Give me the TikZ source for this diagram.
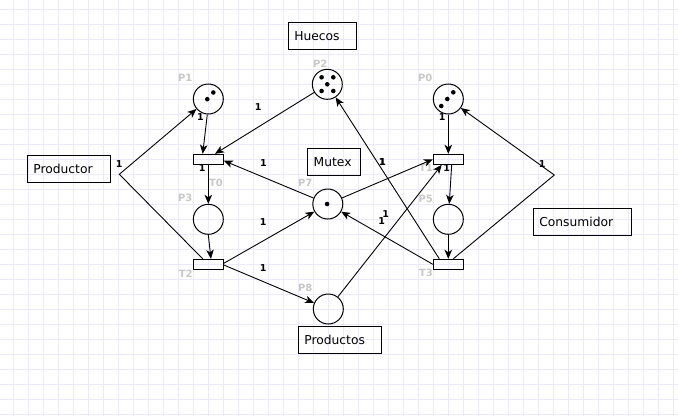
\documentclass[tikz,border=0pt]{standalone}
\usepackage{fontspec}
\setmainfont{DejaVu Sans}
\usetikzlibrary{arrows.meta,calc}
\definecolor{gridc}{RGB}{234,234,252}
\definecolor{lblc}{RGB}{200,200,200}
\begin{document}
\begin{tikzpicture}[x=1pt,y=-1pt,
 place/.style={circle,draw,line width=1pt,minimum size=30pt,inner sep=0pt},
 trans/.style={rectangle,draw,line width=1pt,minimum width=30pt,minimum height=10pt,inner sep=0pt},
 tbox/.style={rectangle,draw,line width=1pt,minimum height=27pt,inner xsep=6pt,inner ysep=0pt,align=left,font=\fontsize{12.3}{15}\selectfont},
 nlbl/.style={text=lblc,font=\fontsize{10}{12}\selectfont\bfseries,inner sep=0pt},
 albl/.style={font=\fontsize{9.5}{11}\selectfont\bfseries,inner sep=0pt},
 arc/.style={draw,line width=0.9pt,-{Stealth[length=9pt,width=7.5pt,inset=2.5pt]}},
 plainarc/.style={draw,line width=0.9pt}]
\useasboundingbox (0,0) rectangle (678,416);
\fill[white] (0,0) rectangle (678,416);
\foreach \i in {0,...,44} \draw[gridc,line width=1pt] (13.3+15*\i,0) -- (13.3+15*\i,416);
\foreach \i in {0,...,27} \draw[gridc,line width=1pt] (0,9.3+15*\i) -- (678,9.3+15*\i);

% places
\node[place] (p1) at (208.3,99) {};
\node[place] (p2) at (327.3,84.3) {};
\node[place] (p0) at (448.3,99) {};
\node[place] (p3) at (208.3,219.3) {};
\node[place] (p5) at (448.3,219.3) {};
\node[place] (p7) at (327.8,204) {};
\node[place] (p8) at (328.3,309) {};
% transitions
\node[trans] (t0) at (208.3,159.3) {};
\node[trans] (t1) at (448.3,159.3) {};
\node[trans] (t2) at (208.3,264.3) {};
\node[trans] (t3) at (448.3,264.3) {};
% tokens
\fill ($(p1)+(5,-6.5)$) circle (2.3pt);
\fill ($(p1)+(-1,0.2)$) circle (2.3pt);
\fill ($(p0)+(5,-6.7)$) circle (2.3pt);
\fill ($(p0)+(-1,0)$) circle (2.3pt);
\fill ($(p0)+(-7,7)$) circle (2.3pt);
\fill ($(p2)+(-5.7,-7)$) circle (2.3pt);
\fill ($(p2)+(6,-7)$) circle (2.3pt);
\fill ($(p2)+(0,0)$) circle (2.3pt);
\fill ($(p2)+(-5.7,6.7)$) circle (2.3pt);
\fill ($(p2)+(6,6.7)$) circle (2.3pt);
\fill ($(p7)+(-0.7,0)$) circle (2.3pt);

% element labels
\node[nlbl] (lp1) at (185.3,78.3) {P1};
\node[nlbl] (lp2) at (320.3,63.3) {P2};
\node[nlbl] (lp0) at (425.3,78.3) {P0};
\node[nlbl] (lt0) at (216,183.3) {T0};
\node[nlbl] (lp3) at (185.3,198.3) {P3};
\node[nlbl] (lt2) at (185.8,273.3) {T2};
\node[nlbl] (lp7) at (305.3,183.3) {P7};
\node[nlbl] (lp8) at (305.3,288.3) {P8};
\node[nlbl] (lt1) at (426,168.3) {T1};
\node[nlbl] (lp5) at (425.7,199) {P5};
\node[nlbl] (lt3) at (426,273.3) {T3};

% text boxes
\node[tbox,text width=56.4pt] (huecos) at (322.5,36) {Huecos};
\node[tbox,text width=40.6pt] (mutex) at (334,161.8) {Mutex};
\node[tbox,text width=71.4pt] (productor) at (69,168.8) {Productor};
\node[tbox,text width=71.4pt] (productos) at (340,340) {Productos};
\node[tbox,text width=86.4pt] (consumidor) at (582.5,221.8) {Consumidor};

% fork points
\coordinate (f1) at (119.3,174.3);
\coordinate (f2) at (554.3,175);

% arcs
\path[arc] ([xshift=-5.6pt]t2.north) -- (f1) -- (p1);
\path[arc] ([xshift=5pt]t3.north) -- (f2) -- (p0);
\path[arc] ([xshift=-1pt]p1.south) -- ([xshift=-5.6pt]t0.north);
\path[arc] (p2) -- ([xshift=6.7pt]t0.north);
\path[arc] (p7) -- ([yshift=-1.4pt]t0.east);
\path[arc] (t0.south) -- (p3.north);
\path[arc] (p3.south) -- ([xshift=2.7pt]t2.north);
\path[arc] ([yshift=1pt]t2.east) -- (p7);
\path[arc] ([yshift=-0.7pt]t2.east) -- (p8);
\path[arc] (p8) -- ([xshift=-6.6pt]t1.south);
\path[arc] (p7) -- (t1.west);
\path[arc] ([xshift=-9pt]t3.north) -- (p2);
\path[arc] (t3.west) -- (p7);
\path[arc] (p0.south) -- (t1.north);
\path[arc] ([xshift=3.4pt]t1.south) -- (p5);
\path[arc] (p5.south) -- (t3.north);

% arc weights
\node[albl] (w1) at (119.3,164.3) {1};
\node[albl] (w2) at (200.5,117.3) {1};
\node[albl] (w3) at (202.3,168) {1};
\node[albl] (w4) at (258.3,107.5) {1};
\node[albl] (w5) at (263.5,163.3) {1};
\node[albl] (w6) at (263.3,222) {1};
\node[albl] (w7) at (263.3,268) {1};
\node[albl] (w8) at (382.3,162.3) {1};
\node[albl] (w9) at (382.8,161.8) {1};
\node[albl] (w10) at (381.7,220.7) {1};
\node[albl] (w11) at (385.7,214) {1};
\node[albl] (w12) at (442.3,117.3) {1};
\node[albl] (w13) at (446.7,168.3) {1};
\node[albl] (w14) at (542.3,164.3) {1};
\end{tikzpicture}
\end{document}
